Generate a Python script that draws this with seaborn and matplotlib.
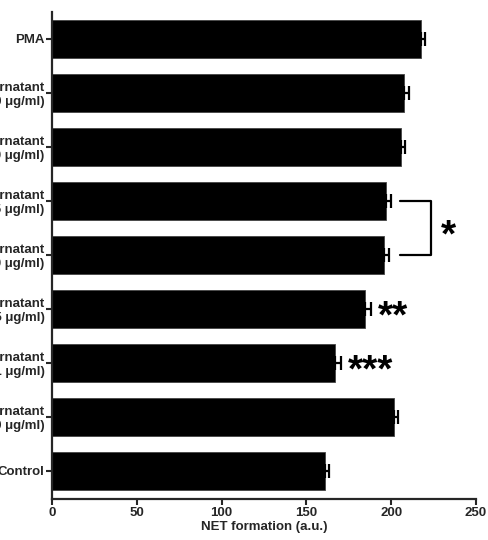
import matplotlib
matplotlib.use("Agg")
import matplotlib.pyplot as plt
import seaborn as sns
import pandas as pd
import numpy as np

# Groups from top to bottom
groups = [
    "PMA",
    "Bacterial supernatant\n(100 \u03bcg/ml)",
    "Bacterial supernatant\n(50 \u03bcg/ml)",
    "Bacterial supernatant\n(25 \u03bcg/ml)",
    "Bacterial supernatant\n(10 \u03bcg/ml)",
    "Bacterial supernatant\n(5 \u03bcg/ml)",
    "Bacterial supernatant\n(1 \u03bcg/ml)",
    "Control supernatant\n(100 \u03bcg/ml)",
    "Control",
]
net_mean = [217.5, 207.5, 205.5, 197.0, 195.5, 184.5, 167.0, 201.5, 161.0]
net_sem = [2.5, 3.0, 2.8, 2.8, 3.3, 3.8, 3.3, 2.8, 2.3]
stars = ["", "", "", "", "", "**", "***", "", ""]

x_ticks = [0, 50, 100, 150, 200, 250]

df = pd.DataFrame({"group": groups, "net": net_mean, "sem": net_sem})

sns.set_style("ticks")
plt.rcParams["font.family"] = ["Liberation Sans", "DejaVu Sans"]
plt.rcParams["font.weight"] = "bold"

fig = plt.figure(figsize=(4.88, 5.40), dpi=100)
ax = fig.add_axes([0.1066, 0.0759, 0.8688, 0.9019])

sns.barplot(data=df, y="group", x="net", orient="h", color="black",
            saturation=1, width=0.7, errorbar=None, ax=ax,
            edgecolor="#444444", linewidth=0.6)

ypos = np.arange(len(groups))
ax.errorbar(net_mean, ypos, xerr=[np.zeros(len(net_sem)), net_sem],
            fmt="none", ecolor="black", elinewidth=1.6, capsize=5,
            capthick=1.6)

# significance stars next to individual bars
for y, m, s, st in zip(ypos, net_mean, net_sem, stars):
    if st:
        ax.text(m + s + 4, y + 0.15, st, ha="left", va="center",
                fontsize=28, fontweight="bold", color="black")

# bracket joining the 25 and 10 ug/ml groups
i, j = 3, 4
bx0 = max(net_mean[i] + net_sem[i], net_mean[j] + net_sem[j]) + 5.4
bx1 = bx0 + 18
ax.plot([bx0, bx1, bx1, bx0], [i, i, j, j], color="black", lw=1.6,
        clip_on=False)
ax.text(bx1 + 6, (i + j) / 2 + 0.15, "*", ha="left", va="center",
        fontsize=28, fontweight="bold", color="black")

ax.set_xlim(0, 250)
ax.set_ylim(len(groups) - 0.48, -0.5)
ax.set_xticks(x_ticks)
ax.set_xlabel("NET formation (a.u.)", fontsize=9.5, fontweight="bold",
              labelpad=2)
ax.set_ylabel("")
ax.tick_params(axis="both", width=1.5, length=4, labelsize=9.5,
               direction="out", pad=1.5)
for lab in ax.get_yticklabels() + ax.get_xticklabels():
    lab.set_fontweight("bold")
for lab in ax.get_yticklabels():
    lab.set_horizontalalignment("right")
    lab.set_multialignment("right")

sns.despine(ax=ax)
for sp in ["left", "bottom"]:
    ax.spines[sp].set_linewidth(1.6)

fig.savefig("out.png", dpi=100)
